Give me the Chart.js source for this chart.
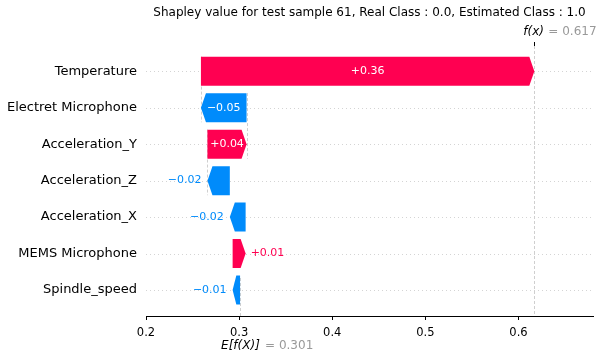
<!DOCTYPE html>
<html>
<head>
<meta charset="utf-8">
<script src="https://cdn.jsdelivr.net/npm/chart.js@4"></script>
<style>
html, body { margin: 0; padding: 0; background: #fff; }
</style>
</head>
<body>
<canvas id="myChart" width="603" height="361"></canvas>
<script>
// rows listed top to bottom, as in the plot
const features = ['Temperature', 'Electret Microphone', 'Acceleration_Y', 'Acceleration_Z',
                  'Acceleration_X', 'MEMS Microphone', 'Spindle_speed'];
const shapValues = [0.358, -0.049, 0.042, -0.024, -0.017, 0.014, -0.008];
const baseValue = 0.301;
const xTicks = [0.2, 0.3, 0.4, 0.5, 0.6];
const chartTitle = 'Shapley value for test sample 61, Real Class : 0.0, Estimated Class : 1.0';

const red = '#ff0051';
const blue = '#008bfb';
const n = features.length;

// waterfall: start from the base value at the bottom row and go up
const starts = [], ends = [];
let loc = baseValue;
for (let i = n - 1; i >= 0; i--) {
  starts[i] = loc;
  loc += shapValues[i];
  ends[i] = loc;
}
const fx = loc;
const rowOf = i => n - 1 - i;

function fmt(v) {
  const s = Math.abs(v).toFixed(2);
  return (v < 0 ? '\u2212' : '+') + s;
}

const waterfallPlugin = {
  id: 'waterfall',
  beforeDatasetsDraw(chart) {
    const ctx = chart.ctx, area = chart.chartArea;
    const xs = chart.scales.x, ys = chart.scales.y;
    ctx.save();
    // dotted row lines
    ctx.strokeStyle = '#d4d4d4';
    ctx.lineWidth = 1;
    ctx.setLineDash([1, 3]);
    for (let r = 0; r < n; r++) {
      const y = Math.round(ys.getPixelForValue(r)) + 0.5;
      ctx.beginPath(); ctx.moveTo(area.left, y); ctx.lineTo(area.right, y); ctx.stroke();
    }
    // connectors, base line, f(x) line
    ctx.strokeStyle = '#cfcfcf';
    ctx.setLineDash([3, 2]);
    for (let i = 0; i + 4 < n; i++) {
      const x = Math.round(xs.getPixelForValue(starts[i])) + 0.5;
      ctx.beginPath();
      ctx.moveTo(x, ys.getPixelForValue(rowOf(i) + 0.4));
      ctx.lineTo(x, ys.getPixelForValue(rowOf(i) - 1.4));
      ctx.stroke();
    }
    let x = Math.round(xs.getPixelForValue(baseValue)) + 0.5;
    ctx.beginPath(); ctx.moveTo(x, area.bottom); ctx.lineTo(x, area.bottom - (area.bottom - area.top) / n); ctx.stroke();
    x = Math.round(xs.getPixelForValue(fx)) + 0.5;
    ctx.beginPath(); ctx.moveTo(x, area.top); ctx.lineTo(x, area.bottom); ctx.stroke();
    ctx.restore();
  },
  afterDatasetsDraw(chart) {
    const ctx = chart.ctx, area = chart.chartArea;
    const xs = chart.scales.x;
    const meta = chart.getDatasetMeta(0);
    ctx.save();
    ctx.font = '11px "DejaVu Sans"';
    ctx.textBaseline = 'middle';
    meta.data.forEach((el, i) => {
      const v = shapValues[i];
      const left = Math.min(el.x, el.base), right = Math.max(el.x, el.base);
      const h = el.height / 2, y = el.y;
      const len = right - left;
      const head = Math.min(5, len * 0.5);
      const color = v >= 0 ? red : blue;
      ctx.beginPath();
      if (v >= 0) {
        ctx.moveTo(left, y - h); ctx.lineTo(right - head, y - h); ctx.lineTo(right, y);
        ctx.lineTo(right - head, y + h); ctx.lineTo(left, y + h);
      } else {
        ctx.moveTo(right, y - h); ctx.lineTo(left + head, y - h); ctx.lineTo(left, y);
        ctx.lineTo(left + head, y + h); ctx.lineTo(right, y + h);
      }
      ctx.closePath();
      ctx.fillStyle = color;
      ctx.fill();

      const txt = fmt(v);
      const tw = ctx.measureText(txt).width;
      if (tw + 5 < len) {
        ctx.fillStyle = '#fff'; ctx.textAlign = 'center';
        ctx.fillText(txt, (left + right) / 2, y);
      } else if (v >= 0) {
        ctx.fillStyle = color; ctx.textAlign = 'left';
        ctx.fillText(txt, right + 5, y);
      } else {
        ctx.fillStyle = color; ctx.textAlign = 'right';
        ctx.fillText(txt, left - 6, y);
      }
    });

    // f(x) and E[f(X)] labels
    ctx.textAlign = 'left';
    const fxPx = xs.getPixelForValue(fx);
    ctx.font = 'italic 12px "DejaVu Sans"';
    ctx.fillStyle = '#000';
    ctx.fillText('f(x)', fxPx - 11, 32);
    ctx.font = '12px "DejaVu Sans"';
    ctx.fillStyle = '#999';
    ctx.fillText('= ' + fx.toFixed(3), fxPx + 14, 32);
    ctx.strokeStyle = '#000'; ctx.lineWidth = 1;
    ctx.beginPath(); ctx.moveTo(Math.round(fxPx) + 0.5, area.top - 4); ctx.lineTo(Math.round(fxPx) + 0.5, area.top); ctx.stroke();

    const basePx = xs.getPixelForValue(baseValue);
    ctx.font = 'italic 12px "DejaVu Sans"';
    ctx.fillStyle = '#000';
    ctx.fillText('E[f(X)]', basePx - 19, 346);
    ctx.font = '12px "DejaVu Sans"';
    ctx.fillStyle = '#999';
    ctx.fillText('= ' + baseValue.toFixed(3), basePx + 25, 346);
    ctx.restore();
  }
};

Chart.defaults.font.family = '"DejaVu Sans"';
Chart.defaults.color = '#000';

const ctx = document.getElementById('myChart').getContext('2d');
const myChart = new Chart(ctx, {
  type: 'bar',
  data: {
    datasets: [{
      data: features.map((f, i) => ({ x: [starts[i], ends[i]], y: rowOf(i) })),
      backgroundColor: 'rgba(0,0,0,0)',
      borderWidth: 0,
      barThickness: 29
    }]
  },
  options: {
    indexAxis: 'y',
    responsive: false,
    animation: false,
    layout: { padding: { top: 0, right: 10, bottom: 0, left: 0 } },
    plugins: {
      legend: { display: false },
      tooltip: { enabled: false },
      title: {
        display: true,
        text: chartTitle,
        fullSize: false,
        color: '#000',
        font: { size: 12, weight: 'normal' },
        padding: { top: 6, bottom: 25.6 }
      }
    },
    scales: {
      x: {
        type: 'linear',
        min: 0.2,
        max: 0.68,
        afterBuildTicks: s => { s.ticks = xTicks.map(v => ({ value: v })); },
        afterFit: s => { s.height = 45; },
        ticks: { callback: v => v.toFixed(1), font: { size: 11.5 }, color: '#000', padding: 6, maxRotation: 0 },
        grid: { drawOnChartArea: false, drawTicks: true, tickLength: 4, color: '#000' },
        border: { display: true, color: '#000', width: 1 }
      },
      y: {
        type: 'linear',
        offset: false,
        min: -0.71,
        max: 6.69,
        afterBuildTicks: s => { s.ticks = features.map((f, i) => ({ value: rowOf(i) })); },
        afterFit: s => { s.width = 146; },
        ticks: { callback: v => features[n - 1 - v], font: { size: 13 }, color: '#000', padding: 9 },
        grid: { display: false, drawTicks: false },
        border: { display: false }
      }
    }
  },
  plugins: [waterfallPlugin]
});
</script>
</body>
</html>
